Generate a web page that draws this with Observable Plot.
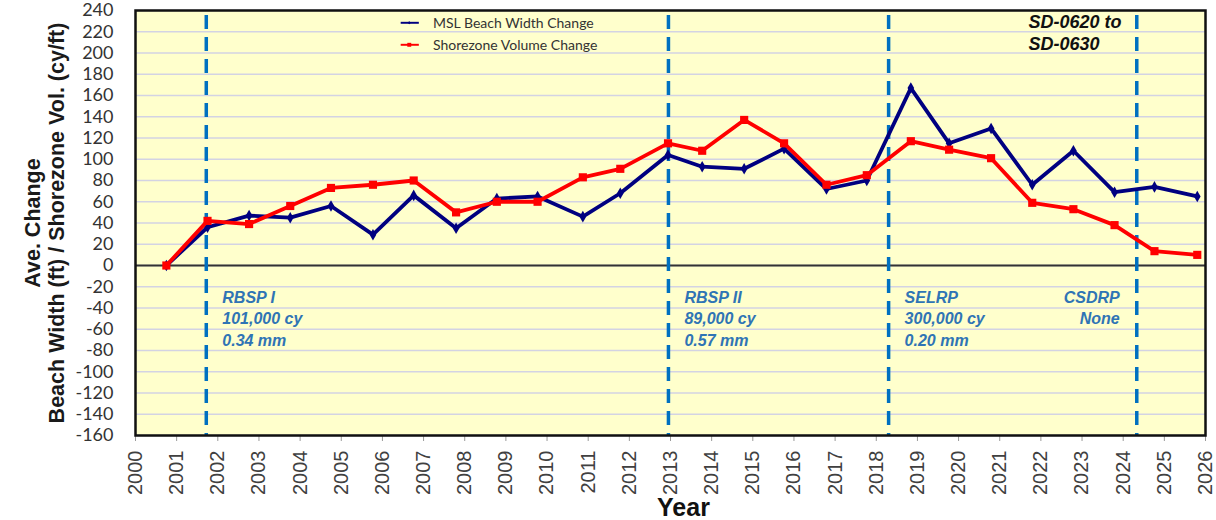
<!DOCTYPE html>
<html>
<head>
<meta charset="utf-8">
<script src="https://cdn.jsdelivr.net/npm/d3@7"></script>
<script src="https://cdn.jsdelivr.net/npm/@observablehq/plot@0.6"></script>
<style>
  html, body { margin: 0; padding: 0; background: #ffffff; overflow: hidden; }
  #wrap { position: relative; width: 1216px; height: 520px; }
  #legend { position: absolute; left: 390px; top: 12px; font-family: Lato, "Noto Sans", sans-serif; font-size: 14px; color: #333; }
  .lg-row { display: flex; align-items: center; height: 21.6px; }
  .lg-row svg { margin-right: 3px; }
  svg [aria-label="x-axis tick"] path { stroke: #9a9a9a; }
</style>
</head>
<body>
<div id="wrap">
  <div id="legend"></div>
</div>
<script>
// ---- data ----
const surveyYears = [2000.75, 2001.75, 2002.76, 2003.76, 2004.75, 2005.77, 2006.76, 2007.79, 2008.78, 2009.77,
                     2010.87, 2011.78, 2012.94, 2013.77, 2014.79, 2015.76, 2016.79, 2017.77, 2018.84, 2019.77,
                     2020.79, 2021.79, 2022.79, 2023.79, 2024.76, 2025.80];
const beachWidthChange = [0, 36, 47, 45, 56, 29, 66, 35, 63, 65,
                          46, 68, 104, 93, 91, 110, 72, 80, 167, 115,
                          129, 76, 108, 69, 74, 65];
const shorezoneVolumeChange = [0, 42, 39, 56, 73, 76, 80, 50, 60, 60,
                               83, 91, 115, 108, 137, 115, 76, 85, 117, 109,
                               101, 59, 53, 38, 13.5, 10];
const seriesNames = ["MSL Beach Width Change", "Shorezone Volume Change"];
const seriesColors = ["#000080", "#ff0000"];
const xTickYears = d3.range(2000, 2027);
const yTickValues = d3.range(-160, 241, 20);
const projectYears = [2001.72, 2012.95, 2018.30, 2024.33];
const projectNames = ["RBSP I", "RBSP II", "SELRP", "CSDRP"];
const projectVolumes = ["101,000 cy", "89,000 cy", "300,000 cy", "None"];
const projectGrainSizes = ["0.34 mm", "0.57 mm", "0.20 mm", ""];
const siteLabel = ["SD-0620 to", "SD-0630"];
const yTitle = ["Ave. Change", "Beach Width (ft) / Shorezone Vol. (cy/ft)"];
const xTitle = "Year";

// ---- derived tables ----
const widthData = surveyYears.map((yr, i) => ({year: yr, value: beachWidthChange[i]}));
const volumeData = surveyYears.map((yr, i) => ({year: yr, value: shorezoneVolumeChange[i]}));
const projects = projectYears.map((yr, i) => ({
  year: yr,
  label: [projectNames[i], projectVolumes[i], projectGrainSizes[i]].filter(s => s).join("\n")
}));
const projectsLeft = projects.slice(0, 3);
const projectsRight = projects.slice(3);

const annoFont = "'Liberation Sans', Arial, sans-serif";

const chart = Plot.plot({
  width: 1216,
  height: 520,
  marginLeft: 135,
  marginRight: 11,
  marginTop: 10,
  marginBottom: 85,
  style: {fontFamily: "'Liberation Sans', Arial, sans-serif", background: "transparent", overflow: "visible"},
  x: {domain: [2000, 2026], label: null},
  y: {domain: [-160, 240], label: null},
  marks: [
    Plot.frame({fill: "#ffffcc"}),
    Plot.gridY(yTickValues, {stroke: "#d3d3e3", strokeOpacity: 1, strokeWidth: 1.5}),
    Plot.ruleY([0], {stroke: "#333333", strokeWidth: 2}),
    Plot.ruleX(projectYears, {stroke: "#0070c0", strokeWidth: 3.5, strokeDasharray: "14,8", strokeDashoffset: 17}),
    Plot.line(widthData, {x: "year", y: "value", stroke: seriesColors[0], strokeWidth: 3.8}),
    Plot.dot(widthData, {x: "year", y: "value", symbol: "diamond", r: 3.5, fill: seriesColors[0], stroke: "none"}),
    Plot.line(volumeData, {x: "year", y: "value", stroke: seriesColors[1], strokeWidth: 3.8}),
    Plot.dot(volumeData, {x: "year", y: "value", symbol: "square", r: 4.6, fill: seriesColors[1], stroke: "none"}),
    Plot.text(projectsLeft, {x: "year", text: "label", frameAnchor: "top", lineAnchor: "top", dx: 16, dy: 277,
      textAnchor: "start", fontSize: 16, fontWeight: "bold", fontStyle: "italic", lineHeight: 1.35,
      fill: "#2f74b5", fontFamily: annoFont}),
    Plot.text(projectsRight, {x: "year", text: "label", frameAnchor: "top", lineAnchor: "top", dx: -17, dy: 277,
      textAnchor: "end", fontSize: 16, fontWeight: "bold", fontStyle: "italic", lineHeight: 1.35,
      fill: "#2f74b5", fontFamily: annoFont}),
    Plot.text([siteLabel.join("\n")], {frameAnchor: "top-right", lineAnchor: "top", textAnchor: "start",
      dx: -177, dy: 3, fontSize: 18, fontWeight: "bold", fontStyle: "italic", lineHeight: 1.17,
      fill: "#111", fontFamily: annoFont}),
    Plot.axisY(yTickValues, {tickSize: 0, tickPadding: 22, fontSize: 18, fontFamily: "Lato, 'Noto Sans', sans-serif",
      fill: "#333", label: null, tickFormat: d => String(d)}),
    Plot.axisX(xTickYears, {tickSize: 6, tickPadding: 9, tickRotate: -90, fontSize: 20, tickFormat: d => String(d),
      fill: "#404040", stroke: "#9a9a9a", label: null}),
    Plot.text([yTitle.join("\n")], {frameAnchor: "left", textAnchor: "middle", lineAnchor: "middle", rotate: -90, dx: -91,
      fontSize: 21.5, fontWeight: "bold", lineHeight: 1.1, fill: "#1a1a1a", fontFamily: annoFont}),
    Plot.text([xTitle], {frameAnchor: "bottom", dx: 13, dy: 80, fontSize: 25, fontWeight: "bold",
      fill: "#111", fontFamily: annoFont}),
    Plot.frame({stroke: "#111", strokeWidth: 2.5})
  ]
});
document.getElementById("wrap").appendChild(chart);

// ---- legend (overlay inside plot area) ----
const legend = document.getElementById("legend");
seriesNames.forEach((name, i) => {
  const row = document.createElement("div");
  row.className = "lg-row";
  const marker = i === 0
    ? `<path d="M18.5,19 L22,22 L18.5,25 L15,22 Z" fill="${seriesColors[i]}"/>`
    : `<rect x="14.5" y="18" width="8" height="8" fill="${seriesColors[i]}"/>`;
  row.innerHTML = `<svg width="40" height="44" viewBox="0 0 40 44" style="height:21.6px;width:40px;overflow:visible">
      <line x1="1" x2="38" y1="22" y2="22" stroke="${seriesColors[i]}" stroke-width="4"/>${marker}</svg><span>${name}</span>`;
  legend.appendChild(row);
});
</script>
</body>
</html>
